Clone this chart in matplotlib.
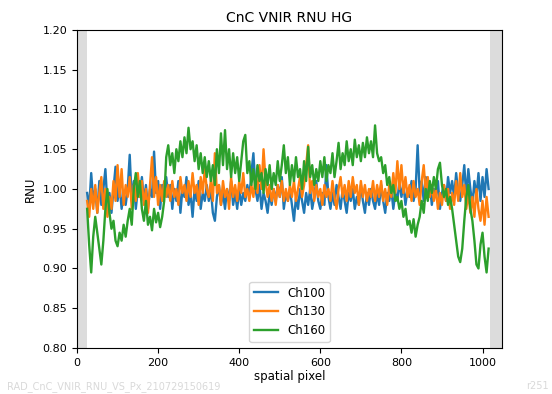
import numpy as np
import matplotlib
matplotlib.use('Agg')
import matplotlib.pyplot as plt

# spatial pixel positions of the sampled points
px_start, px_stop, px_step = 25, 1020, 5

# RNU values in thousandths, one row per ~100 pixels
ch100 = [
    995, 975, 1020, 985, 1000, 970, 1010, 980, 1000, 1025, 980, 995, 970, 1000, 1028, 985, 1005, 975, 995, 980,
    1000, 1043, 985, 1010, 975, 1000, 990, 1015, 985, 1005, 975, 1000, 990, 1047, 995, 1010, 975, 1005, 990, 1015,
    990, 1005, 975, 1000, 985, 1010, 970, 1000, 990, 1015, 980, 995, 965, 1000, 985, 1010, 975, 995, 985, 1005,
    985, 1000, 970, 960, 990, 1005, 980, 995, 975, 1000, 985, 1010, 980, 995, 975, 1000, 980, 995, 985, 1005,
    990, 1020, 1045, 1000, 985, 1005, 975, 995, 985, 970, 995, 980, 1000, 985, 1005, 990, 1015, 975, 995, 985,
    1000, 980, 960, 990, 975, 1000, 985, 970, 995, 980, 1000, 975, 990, 1010, 985, 975, 995, 980, 1030, 990,
    975, 995, 980, 1005, 990, 975, 1000, 985, 970, 995, 985, 1000, 975, 990, 980, 1005, 985, 970, 995, 980,
    1000, 985, 975, 995, 980, 1005, 985, 970, 995, 985, 1000, 975, 995, 985, 1010, 990, 1005, 980, 1000, 990,
    1010, 985, 1000, 1055, 995, 1010, 985, 1015, 995, 1005, 980, 1000, 990, 1010, 975, 995, 1005, 985, 1015, 995,
    1010, 990, 1020, 995, 985, 1005, 1030, 990, 1025, 1000, 980, 1010, 990, 1020, 985, 1015, 990, 1025, 1000,
]
ch130 = [
    985, 965, 1000, 975, 1005, 970, 995, 1015, 975, 1000, 965, 990, 975, 1010, 985, 1030, 990, 1025, 980, 1005,
    990, 1015, 975, 1005, 985, 1020, 990, 1010, 980, 1000, 970, 1005, 1040, 990, 1015, 980, 1005, 985, 1010, 990,
    1005, 985, 1010, 990, 1000, 980, 1015, 995, 1005, 985, 1010, 990, 1020, 995, 1005, 980, 1015, 995, 1025, 1000,
    990, 1010, 985, 1045, 995, 1005, 980, 1010, 990, 1000, 975, 1015, 990, 1005, 985, 1010, 995, 1020, 990, 1000,
    985, 1005, 990, 1015, 995, 1030, 1000, 1050, 1010, 990, 1005, 985, 1000, 980, 1005, 990, 1010, 985, 1000, 985,
    1005, 990, 1010, 985, 1000, 1015, 990, 1005, 1030, 1055, 995, 1010, 985, 1005, 990, 1000, 980, 1005, 990, 1000,
    985, 1010, 990, 975, 1000, 1015, 990, 1005, 985, 1010, 990, 1015, 995, 1005, 980, 1010, 990, 1005, 985, 1000,
    990, 1010, 985, 1005, 990, 1010, 985, 1000, 980, 1005, 990, 1020, 995, 1035, 1000, 1030, 995, 1015, 990, 1005,
    985, 1010, 990, 1000, 980, 1010, 1030, 995, 1015, 990, 1005, 985, 1000, 975, 995, 980, 1005, 985, 1000, 975,
    995, 980, 1010, 985, 1020, 990, 1005, 975, 995, 970, 990, 965, 1000, 975, 960, 985, 955, 990, 965,
]
ch160 = [
    975, 930, 895, 940, 965, 945, 925, 905, 935, 975, 1000, 970, 950, 960, 935, 928, 945, 935, 955, 940,
    960, 975, 955, 1000, 1020, 990, 1010, 975, 960, 985, 955, 965, 948, 975, 958, 970, 952, 965, 985, 1040,
    1055, 1030, 1045, 1020, 1050, 1035, 1060, 1040, 1065, 1045, 1077, 1050, 1060, 1035, 1055, 1025, 1045, 1020, 1040, 1015,
    1035, 1010, 1030, 1005, 1050, 1020, 1070, 1030, 1074, 1025, 1050, 1015, 1045, 1020, 1040, 1010, 1035, 1060, 1068, 1020,
    1035, 1005, 1025, 1000, 1030, 1010, 1020, 995, 1025, 1005, 1030, 1000, 1020, 1005, 1035, 1010, 1030, 1055, 1020, 1040,
    1005, 1030, 1010, 1040, 1015, 1025, 1000, 1035, 1010, 1053, 1015, 1030, 1005, 1025, 1010, 1035, 1015, 1040, 1010, 1030,
    1020, 1045, 1015, 1035, 1058, 1025, 1045, 1030, 1060, 1035, 1050, 1030, 1062, 1040, 1055, 1035, 1058, 1040, 1065, 1045,
    1060, 1040, 1080, 1045, 1035, 1040, 1020, 1030, 1005, 1015, 995, 1005, 985, 990, 975, 985, 965, 975, 955, 960,
    945, 962, 940, 955, 965, 985, 970, 1000, 985, 1010, 995, 1015, 1000, 1025, 1033, 1005, 990, 1000, 980, 990,
    975, 955, 935, 915, 908, 925, 960, 990, 1005, 975, 960, 935, 905, 900, 930, 945, 915, 895, 925,
]
series_names = ['Ch100', 'Ch130', 'Ch160']
colors = ['#1f77b4', '#ff7f0e', '#2ca02c']

pixels = np.arange(px_start, px_stop, px_step)

fig = plt.figure(figsize=(5.52, 3.94), dpi=100)
ax = fig.add_axes([0.1395, 0.1168, 0.7699, 0.8071])

# masked edge pixels
ax.axvspan(0, 24, color='#dcdcdc', lw=0)
ax.axvspan(1018, 1048, color='#dcdcdc', lw=0)

for vals, name, c in zip([ch100, ch130, ch160], series_names, colors):
    ax.plot(pixels, np.array(vals) / 1000.0, color=c, lw=1.7, label=name)

ax.set_xlim(0, 1048)
ax.set_ylim(0.8, 1.2)
ax.set_yticks(np.arange(0.80, 1.201, 0.05))
ax.set_xticks([0, 200, 400, 600, 800, 1000])
ax.tick_params(labelsize=8)
ax.set_xlabel('spatial pixel', fontsize=8.5, labelpad=2)
ax.set_ylabel('RNU', fontsize=8.5)
ax.set_title('CnC VNIR RNU HG', fontsize=10)
ax.legend(loc='lower center', fontsize=8.5)

fig.text(0.013, 0.012, 'RAD_CnC_VNIR_RNU_VS_Px_210729150619', fontsize=7, color='#d9d9d9')
fig.text(0.995, 0.012, 'r251', fontsize=7, color='#d9d9d9', ha='right')

fig.savefig('out.png', dpi=100)
